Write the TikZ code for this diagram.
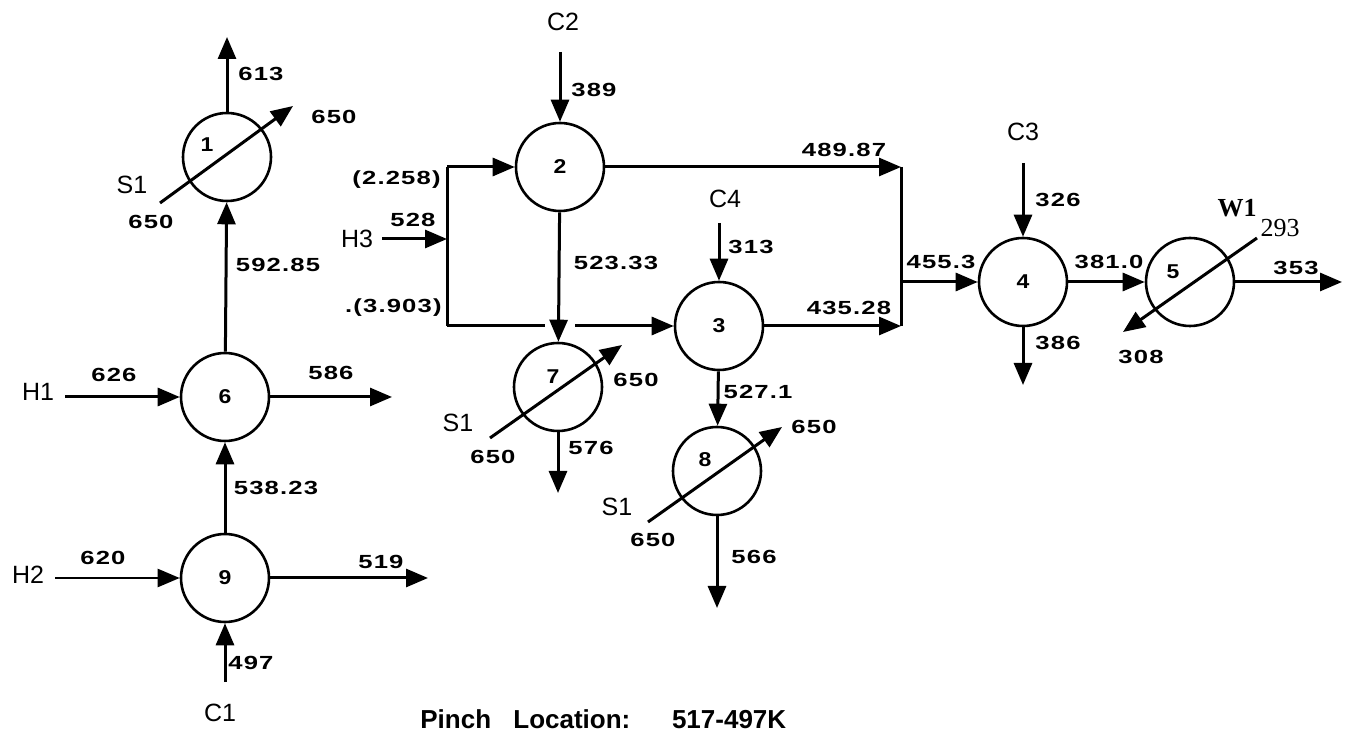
\documentclass[tikz,border=0pt]{standalone}
\usepackage{fontspec}
\setmainfont{Liberation Sans}
\newfontfamily\numfont[LetterSpace=6,FakeStretch=1.35]{Liberation Sans}
\newfontfamily\idfont[FakeStretch=1.15]{Liberation Sans}
\newfontfamily\serifw{Liberation Serif}
\usetikzlibrary{arrows.meta,calc}
\begin{document}
\begin{tikzpicture}[x=0.5pt,y=-0.5pt,
  hx/.style={circle,draw,line width=1.3pt,minimum size=44pt,inner sep=0pt,font=\idfont\bfseries\fontsize{10pt}{12pt}\selectfont},
  arr/.style={line width=1.5pt,-{Triangle[length=11pt,width=9pt]}},
  ln/.style={line width=1.5pt},
  num/.style={font=\numfont\bfseries\fontsize{9.5pt}{11pt}\selectfont,inner sep=0pt},
  lab/.style={font=\fontsize{12.5pt}{14pt}\selectfont,inner sep=0pt},
  nid/.style={font=\idfont\bfseries\fontsize{10pt}{12pt}\selectfont,inner sep=0pt}]
\fill[white] (0,0) rectangle (1349,731);
\useasboundingbox (0,0) rectangle (1349,731);

% exchangers
\node[hx] (n1) at (227,157) {};
\node[nid] (n1l) at (207,145) {1};
\node[hx] (n2) at (560,167) {2};
\node[hx] (n3) at (719,326) {3};
\node[hx] (n4) at (1023,282) {4};
\node[hx] (n5) at (1190,282) {};
\node[nid] (n5l) at (1173,272) {5};
\node[hx] (n6) at (225,397) {6};
\node[hx] (n7) at (558,387) {};
\node[nid] (n7l) at (553,377) {7};
\node[hx] (n8) at (717,471) {};
\node[nid] (n8l) at (705,460) {8};
\node[hx] (n9) at (225,578) {9};

% free ends
\coordinate (o1) at (227,37);
\coordinate (h1) at (65,397);
\coordinate (o6) at (392,397);
\coordinate (h2) at (55,578);
\coordinate (o9) at (428,578);
\coordinate (c1) at (225,682);
\coordinate (h3) at (382,239);
\coordinate (bj) at (447,239);
\coordinate (bt) at (447,167);
\coordinate (bb) at (447,326);
\coordinate (gl) at (545,326);
\coordinate (gr) at (575,326);
\coordinate (c2) at (560,52);
\coordinate (c4) at (719,223);
\coordinate (o7) at (558,493);
\coordinate (o8) at (717,608);
\coordinate (mt) at (901,167);
\coordinate (mb) at (901,326);
\coordinate (mo) at (901,282);
\coordinate (c3) at (1023,163);
\coordinate (o4) at (1023,385);
\coordinate (o5) at (1342,282);

% steam / water lines
\draw[arr] ($(n1)+(-67,46)$) -- ($(n1)+(66,-51)$);
\draw[arr] ($(n7)+(-68,51)$) -- ($(n7)+(64,-42)$);
\draw[arr] ($(n8)+(-69,51)$) -- ($(n8)+(65,-44)$);
\draw[arr] ($(n5)+(67,-44)$) -- ($(n5)+(-67,50)$);

% column 1
\draw[arr] (n1) -- (o1);
\draw[arr] (n6) -- (n1);
\draw[arr] (h1) -- (n6);
\draw[arr] (n6) -- (o6);
\draw[arr] (n9) -- (n6);
\draw[arr,line width=1.2pt] (h2) -- (n9);
\draw[arr] (n9) -- (o9);
\draw[arr] (c1) -- (n9);

% H3 split
\draw[arr] (h3) -- (bj);
\draw[ln] (bt) -- (bb);
\draw[arr] (bt) -- (n2);
\draw[ln] (bb) -- (gl);
\draw[arr] (gr) -- (n3);
\draw[arr] (c2) -- (n2);
\draw[arr] (n2) -- (n7);
\draw[arr] (c4) -- (n3);
\draw[arr] (n3) -- (n8);
\draw[arr] (n7) -- (o7);
\draw[arr] (n8) -- (o8);

% merge
\draw[arr] (n2) -- (mt);
\draw[arr] (n3) -- (mb);
\draw[ln] (mt) -- (mb);
\draw[arr] (mo) -- (n4);
\draw[arr] (c3) -- (n4);
\draw[arr] (n4) -- (o4);
\draw[arr] (n4) -- (n5);
\draw[arr] (n5) -- (o5);

% labels
\node[num] (t613) at (261,74) {613};
\node[num] (t650a) at (334,117) {650};
\node[lab] (ts1a) at (132,185) {S1};
\node[num] (t650b) at (151,222) {650};
\node[num] (t592) at (278,265) {592.85};
\node[num,anchor=east] (t2258) at (441,180) {(2.258)};
\node[num] (t528) at (413,220) {528};
\node[lab] (th3) at (357,239) {H3};
\node[num,anchor=east] (t3903) at (442,308) {.(3.903)};
\node[lab] (th1) at (38,392) {H1};
\node[num] (t626) at (114,375) {626};
\node[num] (t586) at (331,373) {586};
\node[num] (t538) at (276,488) {538.23};
\node[lab] (th2) at (28,575) {H2};
\node[num] (t620) at (103,558) {620};
\node[num] (t519) at (381,562) {519};
\node[num] (t497) at (251,663) {497};
\node[lab] (tc1) at (220,713) {C1};
\node[lab] (tc2) at (563,22) {C2};
\node[num] (t389) at (594,90) {389};
\node[num] (t523) at (616,263) {523.33};
\node[lab] (tc4) at (725,199) {C4};
\node[num] (t313) at (751,247) {313};
\node[num] (t650c) at (636,380) {650};
\node[lab] (ts1b) at (458,423) {S1};
\node[num] (t650d) at (493,457) {650};
\node[num] (t576) at (591,448) {576};
\node[num] (t527) at (758,392) {527.1};
\node[num] (t650e) at (814,427) {650};
\node[lab] (ts1c) at (617,507) {S1};
\node[num] (t650f) at (653,540) {650};
\node[num] (t566) at (754,557) {566};
\node[num] (t489) at (844,150) {489.87};
\node[num] (t435) at (849,308) {435.28};
\node[num] (t455) at (941,262) {455.3};
\node[lab] (tc3) at (1023,132) {C3};
\node[num] (t326) at (1058,200) {326};
\node[num] (t386) at (1058,343) {386};
\node[num] (t381) at (1109,262) {381.0};
\node[num] (t353) at (1296,268) {353};
\node[font=\serifw\bfseries\fontsize{13pt}{15pt}\selectfont,inner sep=0pt] (tw1) at (1237,208) {W1};
\node[font=\serifw\fontsize{13pt}{15pt}\selectfont,inner sep=0pt] (t293) at (1280,228) {293};
\node[num] (t308) at (1141,357) {308};
\node[font=\bfseries\fontsize{13pt}{15pt}\selectfont,inner sep=0pt,anchor=base west] (pinch) at (420,728) {Pinch\hspace{7.5pt} Location:\hspace{16pt} 517-497K};
\end{tikzpicture}
\end{document}
